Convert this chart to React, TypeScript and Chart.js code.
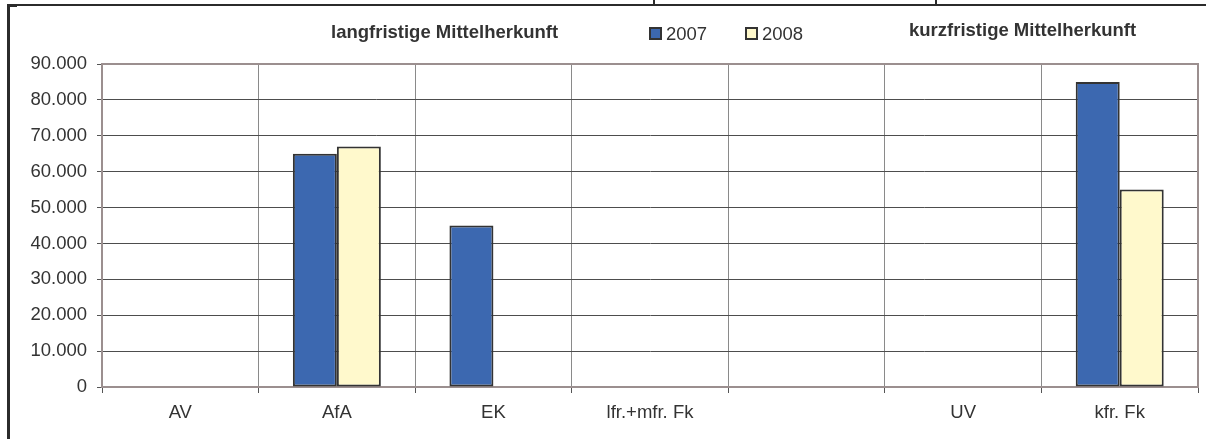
import React, { useEffect, useRef } from "react";
import { Chart, registerables } from "chart.js";

Chart.register(...registerables);

const categories = ["AV", "AfA", "EK", "lfr.+mfr. Fk", "", "UV", "kfr. Fk"];
const series2007 = [null, 65000, 45000, null, null, null, 85000];
const series2008 = [null, 67000, null, null, null, null, 55000];
const seriesNames = ["2007", "2008"];
const seriesColors = ["#3C68B0", "#FFF9CC"];
const yMin = 0;
const yMax = 90000;
const yStep = 10000;
const leftTitle = "langfristige Mittelherkunft";
const rightTitle = "kurzfristige Mittelherkunft";

const FONT = "'Liberation Sans', Arial, Helvetica, sans-serif";

function formatDe(v: number): string {
  return String(Math.round(v)).replace(/\B(?=(\d{3})+(?!\d))/g, ".");
}

const plotBorder = {
  id: "plotBorder",
  beforeDatasetsDraw(chart: any) {
    const { ctx, chartArea } = chart;
    ctx.save();
    ctx.strokeStyle = "#9b8f8f";
    ctx.lineWidth = 2;
    ctx.strokeRect(chartArea.left, chartArea.top, chartArea.right - chartArea.left, chartArea.bottom - chartArea.top);
    ctx.restore();
  },
};

export default function App() {
  const ref = useRef<HTMLCanvasElement | null>(null);

  useEffect(() => {
    if (!ref.current) return;
    const chart = new Chart(ref.current, {
      type: "bar",
      data: {
        labels: categories,
        datasets: [
          {
            label: seriesNames[0],
            data: series2007,
            backgroundColor: seriesColors[0],
            borderColor: "#333333",
            borderWidth: 2,
            borderSkipped: false,
            categoryPercentage: 0.562,
            barPercentage: 1.0,
          },
          {
            label: seriesNames[1],
            data: series2008,
            backgroundColor: seriesColors[1],
            borderColor: "#333333",
            borderWidth: 2,
            borderSkipped: false,
            categoryPercentage: 0.562,
            barPercentage: 1.0,
          },
        ],
      },
      options: {
        responsive: false,
        animation: false,
        devicePixelRatio: 1,
        layout: { padding: { top: 64, right: 8, left: 0, bottom: 0 } },
        plugins: {
          legend: { display: false },
          tooltip: { enabled: false },
          title: { display: false },
        },
        scales: {
          x: {
            offset: true,
            grid: {
              offset: true,
              color: "#8a8a8a",
              lineWidth: 1,
              drawTicks: true,
              tickLength: 6,
              tickColor: "#555555",
            },
            border: { display: true, color: "#8f8585", width: 2 },
            ticks: {
              color: "#333333",
              font: { family: FONT, size: 18.5 },
              padding: 9,
              maxRotation: 0,
              autoSkip: false,
            },
            afterFit: (scale: any) => {
              scale.height = 52;
            },
          },
          y: {
            min: yMin,
            max: yMax,
            grid: {
              color: "#4d4d4d",
              lineWidth: 1,
              drawTicks: true,
              tickLength: 5,
              tickColor: "#555555",
            },
            border: { display: true, color: "#8f8585", width: 2 },
            ticks: {
              stepSize: yStep,
              color: "#333333",
              font: { family: FONT, size: 18.5 },
              padding: 10,
              callback: (v: any) => formatDe(Number(v)),
            },
            afterFit: (scale: any) => {
              scale.width = 102;
            },
          },
        },
      },
      plugins: [plotBorder],
    });
    return () => chart.destroy();
  }, []);

  const textBase: React.CSSProperties = {
    position: "absolute",
    fontFamily: FONT,
    color: "#333333",
    lineHeight: 1,
    whiteSpace: "nowrap",
  };

  return (
    <div style={{ position: "absolute", left: 0, top: 0, width: 1206, height: 439, background: "#ffffff", overflow: "hidden" }}>
      <canvas ref={ref} width={1206} height={439} style={{ position: "absolute", left: 0, top: 0, width: 1206, height: 439 }} />
      {/* frame */}
      <div style={{ position: "absolute", left: 7, top: 4, width: 1199, height: 2, background: "#2b2b2b" }} />
      <div style={{ position: "absolute", left: 7, top: 4, width: 10, height: 3, background: "#2b2b2b" }} />
      <div style={{ position: "absolute", left: 7, top: 4, width: 3, height: 435, background: "#2b2b2b" }} />
      <div style={{ position: "absolute", left: 653, top: 0, width: 2, height: 5, background: "#2b2b2b" }} />
      <div style={{ position: "absolute", left: 935, top: 0, width: 2, height: 5, background: "#2b2b2b" }} />
      {/* titles */}
      <div style={{ ...textBase, left: 331, top: 23, fontSize: 18.5, fontWeight: "bold" }}>{leftTitle}</div>
      <div style={{ ...textBase, left: 909, top: 21, fontSize: 18.5, fontWeight: "bold" }}>{rightTitle}</div>
      {/* legend */}
      <div style={{ position: "absolute", left: 649, top: 27, width: 13, height: 13, boxSizing: "border-box", border: "2px solid #333", background: seriesColors[0] }} />
      <div style={{ ...textBase, left: 666, top: 25, fontSize: 18.5 }}>{seriesNames[0]}</div>
      <div style={{ position: "absolute", left: 745, top: 27, width: 13, height: 13, boxSizing: "border-box", border: "2px solid #333", background: seriesColors[1] }} />
      <div style={{ ...textBase, left: 762, top: 25, fontSize: 18.5 }}>{seriesNames[1]}</div>
    </div>
  );
}
